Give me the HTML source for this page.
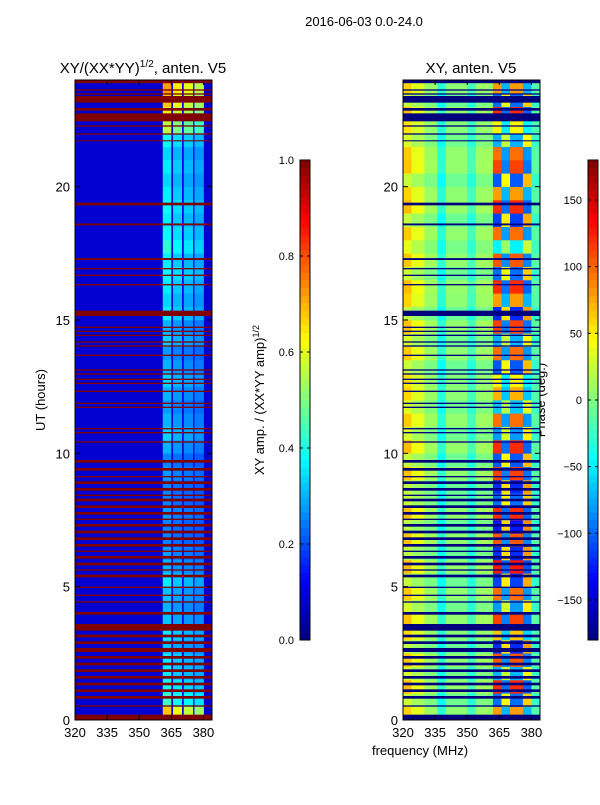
<!DOCTYPE html>
<html><head><meta charset="utf-8"><style>
body{margin:0;background:#fff;font-family:"Liberation Sans",sans-serif}
svg text{font-family:"Liberation Sans",sans-serif}
</style></head><body>
<svg id="s" width="600" height="800" xmlns="http://www.w3.org/2000/svg">
<text x="364" y="26" font-size="13" text-anchor="middle">2016-06-03 0.0-24.0</text>
<text x="143" y="73" font-size="15" text-anchor="middle">XY/(XX*YY)<tspan dy="-6" font-size="10">1/2</tspan><tspan dy="6">, anten. V5</tspan></text>
<text x="471" y="73" font-size="15" text-anchor="middle">XY, anten. V5</text>
<text x="45" y="400" font-size="13" text-anchor="middle" transform="rotate(-90 45 400)">UT (hours)</text>
<text x="420" y="755" font-size="13" text-anchor="middle">frequency (MHz)</text>
<text x="264" y="400" font-size="13" text-anchor="middle" transform="rotate(-90 264 400)">XY amp. / (XX*YY amp)<tspan dy="-5" font-size="9">1/2</tspan></text>
<text x="545" y="400" font-size="13" text-anchor="middle" transform="rotate(-90 545 400)">Phase (deg.)</text>
<g id="g"></g>
</svg>
<script>
const freqEdgesL=[320,361,365,365.8,370,370.8,375.2,375.8,380.2,384];
const ampGain=[0,0.8,0.05,0.7,0.05,0.65,0.05,0.6,0];
const ampRow=[0.75,0.45,0.4,0.35,0.35,0.3,0.35,0.3,0.28,0.3,0.35,0.28,0.25,0.22,0.22,0.25,0.22,0.22,0.25,0.22,0.28,0.32,0.28,0.25,0.28,0.32,0.28,0.25,0.32,0.28,0.35,0.32,0.35,0.38,0.35,0.42,0.38,0.35,0.38,0.35,0.32,0.35,0.32,0.38,0.6,0.7,0.75,0.8];
const freqEdgesR=[320,324,330,336,340,350,354,362,366,370,376,380,384];
const phaseBase=[45,25,5,-35,0,-25,5,0,-20,0,-10,-20];
const phaseMix=[0.15,0.1,0.05,0.05,0.05,0.05,0.05,0.8,-0.5,0.8,-0.6,0.05];
const phaseRow=[100,-120,150,-90,130,-150,80,140,-100,120,-140,160,-150,130,-160,150,-120,-150,140,-130,150,-100,120,-80,90,60,-130,120,-90,140,-150,100,150,-120,130,-60,120,-140,150,100,-130,140,120,-90,60,150,-120,100];
const flagged=[[23.88,24],[23.6,23.65],[23.45,23.5],[23.15,23.4],[22.85,22.95],[22.45,22.75],[22.25,22.3],[21.95,22],[21.7,21.74],[19.3,19.4],[18.55,18.62],[17.25,17.32],[16.9,16.95],[16.65,16.7],[16.3,16.35],[15.15,15.35],[14.7,14.75],[14.55,14.6],[14.4,14.45],[14.15,14.2],[14,14.05],[13.65,13.7],[13.1,13.15],[12.95,13],[12.75,12.8],[12.6,12.65],[12.3,12.35],[11.85,11.9],[11.7,11.75],[10.9,10.95],[10.75,10.8],[10.4,10.45],[9.65,9.75],[9.35,9.45],[9.1,9.15],[8.85,8.95],[8.6,8.7],[8.4,8.45],[8.2,8.3],[7.95,8.05],[7.7,7.8],[7.5,7.55],[7.25,7.35],[7,7.1],[6.75,6.85],[6.5,6.6],[6.3,6.35],[6.05,6.15],[5.8,5.9],[5.6,5.65],[5.35,5.45],[4.95,5],[4.65,4.7],[4.4,4.45],[3.95,4.05],[3.35,3.6],[3.1,3.2],[2.85,2.95],[2.55,2.7],[2.3,2.4],[2.05,2.15],[1.8,1.9],[1.55,1.65],[1.3,1.4],[1.05,1.15],[0.8,0.9],[0.5,0.55],[0,0.2]];
const yTicks=[0,5,10,15,20];
const xTicks=[320,335,350,365,380];
const ampTicks=[0.0,0.2,0.4,0.6,0.8,1.0];
const phTicks=[-150,-100,-50,0,50,100,150];

const NS='http://www.w3.org/2000/svg',G=document.getElementById('g');
function jet(v){v=Math.max(0,Math.min(1,v));
 const r=Math.max(0,Math.min(1,1.5-Math.abs(4*v-3))),g=Math.max(0,Math.min(1,1.5-Math.abs(4*v-2))),b=Math.max(0,Math.min(1,1.5-Math.abs(4*v-1)));
 return `rgb(${Math.round(r*255)},${Math.round(g*255)},${Math.round(b*255)})`;}
function mk(t,a,p){const e=document.createElementNS(NS,t);for(const k in a)e.setAttribute(k,a[k]);(p||G).appendChild(e);return e;}
const Y0=720,Y1=80;
function yS(u){return Y0-(u/24)*(Y0-Y1);}
function xS(f,x0){return x0+(f-320)/64*137;}
function panel(x0,name,edges,valFn,flagColor){
 const g=mk('g',{});
 
 
 const nR=ampRow.length;
 for(let r=0;r<nR;r++){for(let c=0;c<edges.length-1;c++){
  const x=xS(edges[c],x0),x2=xS(edges[c+1],x0),ya=yS((r+1)*24/nR),yb=yS(r*24/nR);
  const e=mk('rect',{x:x,y:ya,width:x2-x+0.3,height:yb-ya+0.3,fill:valFn(r,c)},g);
  
  
 }}
 flagged.forEach(f=>{const e=mk('rect',{x:x0,y:yS(f[1]),width:137,height:Math.max(1,yS(f[0])-yS(f[1])),fill:flagColor},g);
  
  });
 const fr=mk('rect',{x:x0,y:Y1,width:137,height:Y0-Y1,fill:'none',stroke:'#000','stroke-width':1});
 
 
 yTicks.forEach(t=>{const y=yS(t);
  mk('line',{x1:x0,x2:x0+5,y1:y,y2:y,stroke:'#000'});mk('line',{x1:x0+137,x2:x0+132,y1:y,y2:y,stroke:'#000'});
  const e=mk('text',{x:x0-5,y:y+5,'font-size':13,'text-anchor':'end'});e.textContent=t;
  
  });
 xTicks.forEach(t=>{const x=xS(t,x0);
  mk('line',{x1:x,x2:x,y1:Y0,y2:Y0-5,stroke:'#000'});mk('line',{x1:x,x2:x,y1:Y1,y2:Y1+5,stroke:'#000'});
  const e=mk('text',{x:x,y:737,'font-size':13,'text-anchor':'middle'});e.textContent=t;
  
  });
}
panel(75,'amplitude',freqEdgesL,(r,c)=>jet(0.08+ampRow[r]*ampGain[c]),'#800000');
panel(403,'phase',freqEdgesR,(r,c)=>{let v=phaseBase[c]+phaseRow[r]*phaseMix[c];v=Math.max(-180,Math.min(180,v));return jet((v+180)/360);},'#00007f');
function cbar(x,name,ticks,lo,hi){
 const n=64;
 for(let i=0;i<n;i++){const e=mk('rect',{x:x,y:640-(i+1)*480/n,width:10,height:480/n+0.4,fill:jet((i+0.5)/n)});
  
  }
 const fr=mk('rect',{x:x,y:160,width:10,height:480,fill:'none',stroke:'#000'});
 
 
 ticks.forEach(t=>{const y=640-(t-lo)/(hi-lo)*480;
  mk('line',{x1:x,x2:x+3,y1:y,y2:y,stroke:'#000'});mk('line',{x1:x+10,x2:x+7,y1:y,y2:y,stroke:'#000'});
  const e=mk('text',{x:x-6,y:y+4,'font-size':11,'text-anchor':'end'});e.textContent=(hi<=1?t.toFixed(1):t).toString().replace('-','\u2212');
  
  });
}
cbar(300,'amp-colorbar',ampTicks,0,1);
cbar(588,'phase-colorbar',phTicks,-180,180);
</script>
</body></html>
